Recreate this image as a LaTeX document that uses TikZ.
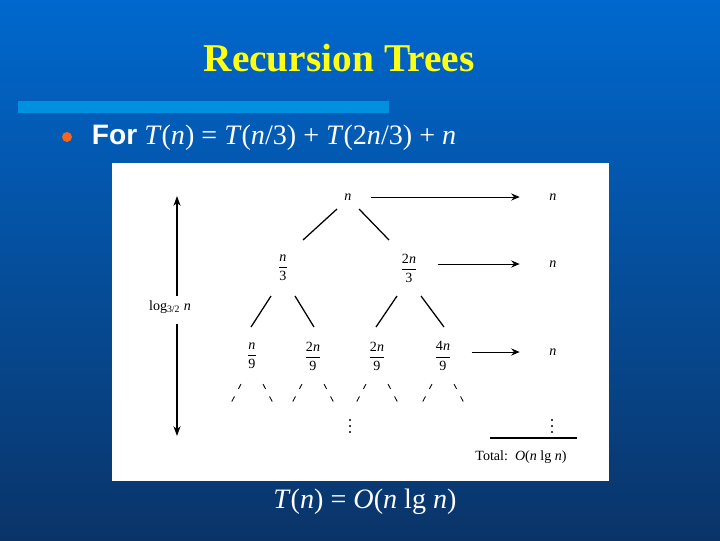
\documentclass[tikz,border=0pt]{standalone}
\usepackage{amsmath}
\usepackage{fontspec}
\setmainfont{Liberation Serif}
\newfontfamily\arialfont{Liberation Sans}
\usepackage{tikz}
\usetikzlibrary{arrows.meta,calc}
\definecolor{bgtop}{RGB}{0,104,206}
\definecolor{bgmid}{RGB}{3,86,174}
\definecolor{bgbot}{RGB}{10,52,104}
\definecolor{barblue}{RGB}{0,144,224}
\definecolor{titleyellow}{RGB}{255,255,20}
\definecolor{bulletorange}{RGB}{242,102,34}
\tikzset{lbl/.style={inner sep=1pt,font=\fontsize{10}{11}\selectfont},
  edge/.style={line width=0.9pt},
  stub/.style={line width=0.6pt,dash pattern=on 4pt off 6pt},
  sumarrow/.style={-{Stealth[length=6pt,width=5pt]},line width=0.6pt,shorten <=13pt,shorten >=20pt},
  hgt/.style={-{Stealth[length=7pt,width=5pt]},line width=1.2pt}}
\newcommand{\fr}[2]{$\dfrac{\text{#1}}{\text{#2}}$}

\begin{document}
\begin{tikzpicture}[x=0.025cm,y=-0.025cm]
\shade[top color=bgtop,middle color=bgmid,bottom color=bgbot] (0,0) rectangle (720,540);
\node[anchor=base,text=titleyellow,font=\fontsize{28}{30}\selectfont\bfseries] (title) at (339,71) {Recursion Trees};
\fill[barblue] (18,101) rectangle (389,113);
\fill[bulletorange] (67,137) circle (5);
\node[anchor=base west,text=white,font=\fontsize{20}{22}\selectfont] (rec) at (87,144)
  {{\arialfont\bfseries For} \textit{T}(\textit{n}) = \textit{T}(\textit{n}/3) + \textit{T}(2\textit{n}/3) + \textit{n}};
\fill[white] (112,163) rectangle (609,481);
% the tree
\node[lbl] (r) at (348,197) {\textit{n}};
\node[lbl] (a) at (283,268) {\fr{\textit{n}}{3}};
\node[lbl] (b) at (409,268) {\fr{2\textit{n}}{3}};
\node[lbl] (l1) at (252,356) {\fr{\textit{n}}{9}};
\node[lbl] (l2) at (313,356) {\fr{2\textit{n}}{9}};
\node[lbl] (l3) at (377,356) {\fr{2\textit{n}}{9}};
\node[lbl] (l4) at (443,356) {\fr{4\textit{n}}{9}};
\foreach \p/\c/\s in {r/a/-1,r/b/1}
  \draw[edge] ($(\p)+(\s*11,12)$) -- ($(\c)+(-\s*20,-28)$);
\foreach \p/\c/\s in {a/l1/-1,a/l2/1,b/l3/-1,b/l4/1}
  \draw[edge] ($(\p)+(\s*12,28)$) -- ($(\c)+(\s*1,-29)$);
\foreach \l in {l1,l2,l3,l4}{
  \draw[stub] ($(\l)+(-11,28)$) -- ($(\l)+(-21,47)$);
  \draw[stub] ($(\l)+(11,28)$) -- ($(\l)+(21,47)$);
}
% row sums
\node[lbl] (n1) at (553,197) {\textit{n}};
\node[lbl] (n2) at (553,264) {\textit{n}};
\node[lbl] (n3) at (553,352) {\textit{n}};
\draw[sumarrow] (r.east |- n1) -- (n1);
\draw[sumarrow] (b.east |- n2) -- (n2);
\draw[sumarrow] (l4.east |- n3) -- (n3);
\foreach \k in {0,1,2}{
  \fill (350,420+\k*6) circle (1.1);
  \fill (552,420+\k*6) circle (1.1);
}
\draw[line width=0.8pt] (490,438) -- (577,438);
\node[lbl] (tot) at (521,457) {Total:\ \ \textit{O}(\textit{n} lg \textit{n})};
% height
\node[lbl,inner sep=3pt] (h) at (170,307) {log\textsubscript{3/2} \textit{n}};
\coordinate (ht) at (177,196);
\coordinate (hb) at (177,436);
\draw[hgt] (h.north -| ht) -- (ht);
\draw[hgt,shorten <=4pt] (h.south -| ht) -- (hb);
\node[anchor=base,text=white,font=\fontsize{20}{22}\selectfont] (res) at (365,508)
  {\textit{T}(\textit{n}) = \textit{O}(\textit{n} lg \textit{n})};
\end{tikzpicture}
\end{document}
